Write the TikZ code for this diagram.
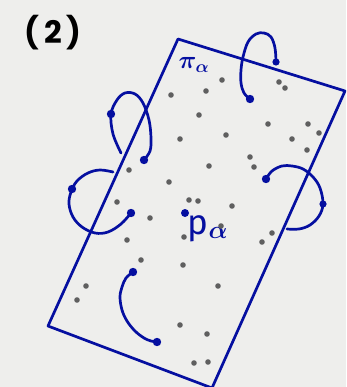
\documentclass[tikz,border=0pt]{standalone}
\usepackage{fontspec}
\setmainfont{Poppins}
\newfontfamily\handsf{Fira Sans}
\definecolor{ink}{RGB}{5,15,160}
\definecolor{pencil}{RGB}{95,95,95}
\definecolor{paper}{RGB}{238,238,236}
\tikzset{
  edge/.style={draw=ink, line width=2.7pt, line join=round},
  handle/.style={draw=ink, line width=2.7pt, line cap=round, smooth, tension=0.6},
  bdot/.style={fill=ink},
  gdot/.style={fill=pencil},
}
\begin{document}
\begin{tikzpicture}[x=1pt,y=-1pt]
\useasboundingbox (0,0) rectangle (346,387);
\fill[paper] (0,0) rectangle (346,387);
% label
\node[font=\bfseries\fontsize{31}{31}\selectfont, text=black] (num) at (53,33) {(\kern5pt 2\kern5pt)};
% plane
\coordinate (c1) at (178,39);
\coordinate (c2) at (345,91);
\coordinate (c3) at (212,388);
\coordinate (c4) at (48,326);
\draw[edge] (c1) -- (c2) -- (c3) -- (c4) -- cycle;
\node[text=ink, font=\fontsize{24}{24}\selectfont\boldmath] (pi) at (194,65) {$\pi_\alpha$};
\node[text=ink, font=\handsf\fontsize{35}{35}\selectfont\boldmath] (p) at (208,229) {p$_{\alpha}$};
\fill[bdot] (185,213) circle (4);
% gray points
\foreach \x/\y in {171/95,206/91,222/80,279/82,285/88,199/115,226/135,180/139,268/124,308/124,319/133,292/139,307/150,250/157,254/167,209/166,129/170,169/182,189/200,198/201,117/202,150/218,232/206,221/226,184/237,127/240,141/260,272/233,262/242,183/265,218/286,180/325,207/334,194/363,208/362,86/286,77/300}
  \fill[gdot] (\x,\y) circle (2.8);
% handles
\draw[handle] plot coordinates {(121,153) (113,134) (111,114) (117,100) (125,93) (135,94) (143,103) (149,120) (151,138) (150,151) (144,160)};
\fill[bdot] (111,114) circle (4.2); \fill[bdot] (144,160) circle (4.2);
\draw[handle] plot coordinates {(113,172) (100,170) (88,173) (77,181) (71,192) (69,204) (73,217) (82,227) (95,233) (108,232) (121,224) (131,213)};
\fill[bdot] (72,189) circle (4.2); \fill[bdot] (131,213) circle (4.2);
\draw[handle] plot coordinates {(266,179) (272,171) (282,166) (292,166) (303,169) (313,177) (320,188) (323,204) (319,216) (310,225) (299,229) (287,229)};
\fill[bdot] (266,179) circle (4.2); \fill[bdot] (323,204) circle (3.6);
\draw[handle] plot coordinates {(250,99) (244,93) (241,83) (241,70) (243,57) (248,42) (256,34) (264,33) (271,37) (275,48) (276,62)};
\fill[bdot] (250,99) circle (4.2); \fill[bdot] (276,62) circle (3.6);
\draw[handle] plot coordinates {(133,272) (126,278) (122,287) (120,297) (122,310) (127,321) (135,331) (144,338) (151,341) (157,342)};
\fill[bdot] (133,272) circle (4.2); \fill[bdot] (157,342) circle (4.2);
\end{tikzpicture}
\end{document}
